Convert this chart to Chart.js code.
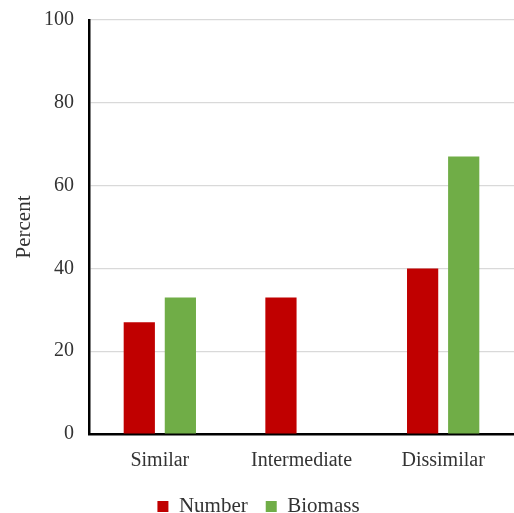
<!DOCTYPE html>
<html>
<head>
<meta charset="utf-8">
<script src="https://cdn.jsdelivr.net/npm/chart.js@4/dist/chart.umd.min.js"></script>
<style>
  html, body { margin: 0; padding: 0; background: #fff; }
  #wrap { width: 514px; height: 513px; }
</style>
</head>
<body>
<div id="wrap"><canvas id="c" width="514" height="513"></canvas></div>
<script>
// Share of records by dietary similarity class
const categories = ['Similar', 'Intermediate', 'Dissimilar'];
const numberPct = [27, 33, 40];
const biomassPct = [33, 0, 67];
const yTicks = [0, 20, 40, 60, 80, 100];

const serif = '"Liberation Serif", "Times New Roman", serif';
const textColor = '#333333';

new Chart(document.getElementById('c'), {
  type: 'bar',
  data: {
    labels: categories,
    datasets: [
      { label: 'Number', data: numberPct, backgroundColor: '#C00000',
        barPercentage: 0.76, categoryPercentage: 0.58 },
      { label: 'Biomass', data: biomassPct, backgroundColor: '#70AD47',
        barPercentage: 0.76, categoryPercentage: 0.58 }
    ]
  },
  options: {
    responsive: false,
    animation: false,
    layout: { padding: { top: 20, right: -3, bottom: -14, left: 0 } },
    plugins: {
      tooltip: { enabled: false },
      legend: {
        position: 'bottom',
        labels: {
          boxWidth: 11, boxHeight: 11, padding: 18,
          color: textColor,
          font: { family: serif, size: 21 }
        }
      }
    },
    scales: {
      x: {
        grid: { display: false, drawTicks: false },
        border: { display: true, color: '#000', width: 2.5 },
        ticks: { color: textColor, padding: 15, font: { family: serif, size: 20 } },
        afterFit: (s) => { s.height = 44; }
      },
      y: {
        min: 0, max: 100,
        afterBuildTicks: (s) => { s.ticks = yTicks.map(v => ({ value: v })); },
        grid: { color: '#d9d9d9', lineWidth: 1.2, drawTicks: false },
        border: { display: true, color: '#000', width: 2.5 },
        ticks: { color: textColor, padding: 15, font: { family: serif, size: 20 } },
        title: { display: true, text: 'Percent', color: textColor,
                 font: { family: serif, size: 21 }, padding: { top: 12, bottom: 0 } },
        afterFit: (s) => { s.width = 89; s.paddingTop = 0; s.paddingBottom = 0; }
      }
    }
  }
});
</script>
</body>
</html>
